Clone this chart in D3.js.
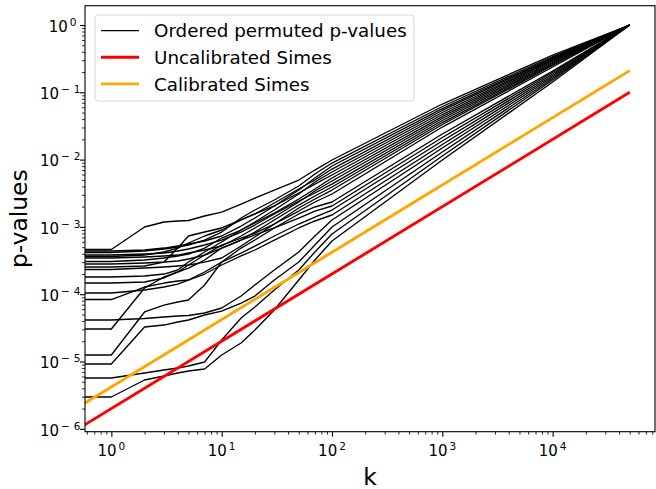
<!DOCTYPE html>
<html>
<head>
<meta charset="utf-8">
<script src="https://cdn.jsdelivr.net/npm/d3@7"></script>
<style>
  body { margin: 0; background: #fff; }
  svg { display: block; font-family: "DejaVu Sans", sans-serif; }
</style>
</head>
<body>
<svg id="chart" width="656" height="489"></svg>
<script>
// Rank k at which each ordered p-value is read
const kGrid = [1, 2, 3, 4, 5, 7, 10, 15, 20, 30, 50, 70, 100, 1000, 10000, 50000];

// Ordered permuted p-values, one row per permutation, stored as log10(p)
const permutedLog10 = [
  [-3.336, -3.001, -2.927, -2.912, -2.905, -2.838, -2.779, -2.660, -2.571, -2.452, -2.303, -2.155, -2.006, -1.174, -0.446, 0],
  [-3.380, -3.358, -3.328, -3.299, -3.269, -3.195, -3.076, -2.868, -2.749, -2.600, -2.392, -2.214, -2.051, -1.211, -0.468, 0],
  [-3.358, -3.343, -3.314, -3.284, -3.254, -3.209, -3.135, -2.987, -2.868, -2.689, -2.452, -2.273, -2.095, -1.241, -0.483, 0],
  [-3.440, -3.418, -3.373, -3.314, -3.239, -3.135, -3.046, -2.897, -2.808, -2.645, -2.437, -2.303, -2.140, -1.270, -0.498, 0],
  [-3.744, -3.730, -3.700, -3.640, -3.522, -3.373, -3.224, -3.046, -2.927, -2.749, -2.511, -2.333, -2.184, -1.300, -0.513, 0],
  [-3.596, -3.581, -3.522, -3.314, -3.135, -3.076, -3.016, -2.897, -2.808, -2.689, -2.496, -2.363, -2.229, -1.330, -0.527, 0],
  [-3.514, -3.492, -3.462, -3.432, -3.403, -3.314, -3.165, -3.046, -2.942, -2.794, -2.585, -2.437, -2.273, -1.360, -0.542, 0],
  [-3.462, -3.447, -3.432, -3.418, -3.388, -3.343, -3.284, -3.135, -3.016, -2.853, -2.630, -2.467, -2.318, -1.389, -0.557, 0],
  [-3.418, -3.403, -3.388, -3.358, -3.328, -3.269, -3.195, -3.076, -2.972, -2.808, -2.615, -2.496, -2.363, -1.419, -0.572, 0],
  [-3.551, -3.536, -3.522, -3.507, -3.477, -3.418, -3.314, -3.195, -3.076, -2.897, -2.675, -2.541, -2.407, -1.449, -0.587, 0],
  [-3.633, -3.611, -3.596, -3.581, -3.566, -3.522, -3.462, -3.284, -3.150, -2.957, -2.719, -2.585, -2.452, -1.478, -0.602, 0],
  [-3.834, -3.819, -3.759, -3.670, -3.566, -3.418, -3.269, -3.165, -3.091, -2.957, -2.764, -2.630, -2.511, -1.516, -0.624, 0],
  [-4.903, -4.264, -4.161, -4.116, -4.086, -3.863, -3.522, -3.314, -3.195, -3.016, -2.808, -2.704, -2.630, -1.620, -0.684, 0],
  [-4.517, -3.908, -3.744, -3.670, -3.611, -3.492, -3.314, -3.195, -3.120, -3.016, -2.868, -2.764, -2.689, -1.672, -0.706, 0],
  [-3.982, -3.938, -3.893, -3.849, -3.789, -3.670, -3.522, -3.388, -3.284, -3.135, -2.957, -2.853, -2.749, -1.724, -0.728, 0],
  [-4.079, -3.893, -3.834, -3.804, -3.789, -3.700, -3.566, -3.432, -3.343, -3.195, -3.016, -2.912, -2.823, -1.776, -0.750, 0],
  [-4.383, -4.361, -4.339, -4.324, -4.316, -4.279, -4.205, -4.027, -3.863, -3.640, -3.373, -3.135, -2.897, -1.828, -0.773, 0],
  [-5.037, -4.487, -4.458, -4.413, -4.383, -4.309, -4.250, -4.131, -4.027, -3.789, -3.522, -3.269, -3.001, -1.887, -0.795, 0],
  [-5.245, -5.171, -5.126, -5.097, -5.067, -5.007, -4.681, -4.354, -4.190, -3.938, -3.640, -3.373, -3.106, -1.947, -0.817, 0],
  [-5.527, -5.275, -5.215, -5.171, -5.141, -5.111, -4.903, -4.725, -4.532, -4.235, -3.789, -3.492, -3.209, -2.006, -0.847, 0]
];

// Simes threshold lines (straight on log-log axes), given by their end points
const thresholdK = [0.5, 50000];
const uncalibratedSimes = [1e-6, 0.1];
const calibratedSimes = [2.1e-6, 0.21];

// Axis ranges and tick decades
const xDomain = [0.577, 84700];
const yDomain = [9.06e-7, 1.936];
const xTickExponents = [0, 1, 2, 3, 4];
const yTickExponents = [-6, -5, -4, -3, -2, -1, 0];

const legendLabels = ["Ordered permuted p-values", "Uncalibrated Simes", "Calibrated Simes"];
const legendColors = ["#000000", "#ff0000", "#ffa500"];
const legendWidths = [1.3, 2.9, 2.9];

const svg = d3.select("#chart");
const plot = { left: 85, right: 655, top: 5.7, bottom: 431.7 };

const x = d3.scaleLog().domain(xDomain).range([plot.left, plot.right]);
const y = d3.scaleLog().domain(yDomain).range([plot.bottom, plot.top]);

svg.append("defs").append("clipPath").attr("id", "plot-area")
  .append("rect")
  .attr("x", plot.left).attr("y", plot.top)
  .attr("width", plot.right - plot.left).attr("height", plot.bottom - plot.top);

const line = d3.line().x(d => x(d[0])).y(d => y(d[1]));
const marks = svg.append("g").attr("clip-path", "url(#plot-area)");

// Permuted curves: the smallest p-value runs flat from the left edge to k = 1
permutedLog10.forEach(row => {
  const pts = [[xDomain[0], Math.pow(10, row[0])]]
    .concat(kGrid.map((k, i) => [k, Math.pow(10, row[i])]));
  marks.append("path")
    .attr("d", line(pts))
    .attr("fill", "none")
    .attr("stroke", "#000")
    .attr("stroke-width", 1.35)
    .attr("stroke-linejoin", "round");
});

[[uncalibratedSimes, legendColors[1]], [calibratedSimes, legendColors[2]]].forEach(([vals, col]) => {
  marks.append("path")
    .attr("d", line(thresholdK.map((k, i) => [k, vals[i]])))
    .attr("fill", "none")
    .attr("stroke", col)
    .attr("stroke-width", 2.9)
    .attr("stroke-linecap", "butt");
});

// Major and minor tick positions for a log axis
function logTicks(domain) {
  const lo = Math.floor(Math.log10(domain[0])), hi = Math.ceil(Math.log10(domain[1]));
  const major = [], minor = [];
  for (let e = lo; e <= hi; e++) {
    for (let m = 1; m <= 9; m++) {
      const v = m * Math.pow(10, e);
      if (v < domain[0] * 0.9999 || v > domain[1] * 1.0001) continue;
      (m === 1 ? major : minor).push(v);
    }
  }
  return { major, minor };
}

const xt = logTicks(xDomain), yt = logTicks(yDomain);

function styleAxis(g, width) {
  g.select(".domain").remove();
  g.selectAll(".tick line").attr("stroke", "#000").attr("stroke-width", width);
  g.selectAll(".tick text").remove();
}

svg.append("g").attr("transform", `translate(0,${plot.bottom})`)
  .call(d3.axisBottom(x).tickValues(xt.minor).tickSize(2.9).tickFormat(""))
  .call(g => styleAxis(g, 0.85));
svg.append("g").attr("transform", `translate(0,${plot.bottom})`)
  .call(d3.axisBottom(x).tickValues(xt.major).tickSize(5).tickFormat(""))
  .call(g => styleAxis(g, 1.1));
svg.append("g").attr("transform", `translate(${plot.left},0)`)
  .call(d3.axisLeft(y).tickValues(yt.minor).tickSize(2.9).tickFormat(""))
  .call(g => styleAxis(g, 0.85));
svg.append("g").attr("transform", `translate(${plot.left},0)`)
  .call(d3.axisLeft(y).tickValues(yt.major).tickSize(5).tickFormat(""))
  .call(g => styleAxis(g, 1.1));

// Power-of-ten tick labels, with math-style spacing around the minus sign
const tickFont = 15;
const supFont = 10.5;
function powerLabel(sel, e) {
  sel.append("tspan").text("10");
  if (e < 0) {
    sel.append("tspan").attr("dx", 2).attr("dy", -6).attr("font-size", supFont).text("\u2212");
    sel.append("tspan").attr("dx", 4).attr("font-size", supFont).text(String(-e));
  } else {
    sel.append("tspan").attr("dx", 2).attr("dy", -6).attr("font-size", supFont).text(String(e));
  }
}

xTickExponents.forEach(e => {
  svg.append("text")
    .attr("x", x(Math.pow(10, e)))
    .attr("y", 456)
    .attr("text-anchor", "middle")
    .attr("font-size", tickFont)
    .attr("fill", "#000")
    .call(powerLabel, e);
});
yTickExponents.forEach(e => {
  svg.append("text")
    .attr("x", e < 0 ? 80.5 : 76.5)
    .attr("y", y(Math.pow(10, e)) + 6.7)
    .attr("text-anchor", "end")
    .attr("font-size", tickFont)
    .attr("fill", "#000")
    .call(powerLabel, e);
});

// Frame
svg.append("rect")
  .attr("x", plot.left).attr("y", plot.top)
  .attr("width", plot.right - plot.left).attr("height", plot.bottom - plot.top)
  .attr("fill", "none").attr("stroke", "#000").attr("stroke-width", 1.1);

// Axis titles
svg.append("text")
  .attr("x", (plot.left + plot.right) / 2).attr("y", 484.5)
  .attr("text-anchor", "middle").attr("font-size", 23.4).attr("fill", "#000")
  .text("k");
svg.append("text")
  .attr("transform", `translate(27,${(plot.top + plot.bottom) / 2}) rotate(-90)`)
  .attr("text-anchor", "middle").attr("font-size", 23.4).attr("fill", "#000")
  .text("p-values");

// Legend
const legend = svg.append("g");
legend.append("rect")
  .attr("x", 95).attr("y", 15).attr("width", 319).attr("height", 86)
  .attr("rx", 3.5)
  .attr("fill", "#fff").attr("fill-opacity", 0.8)
  .attr("stroke", "#d6d6d6").attr("stroke-width", 1);
legendLabels.forEach((label, i) => {
  const cy = 30.7 + i * 26.6;
  legend.append("line")
    .attr("x1", 101).attr("x2", 139).attr("y1", cy).attr("y2", cy)
    .attr("stroke", legendColors[i]).attr("stroke-width", legendWidths[i]);
  legend.append("text")
    .attr("x", 154).attr("y", cy + 6.6)
    .attr("font-size", 18.3).attr("fill", "#000")
    .text(label);
});
</script>
</body>
</html>
